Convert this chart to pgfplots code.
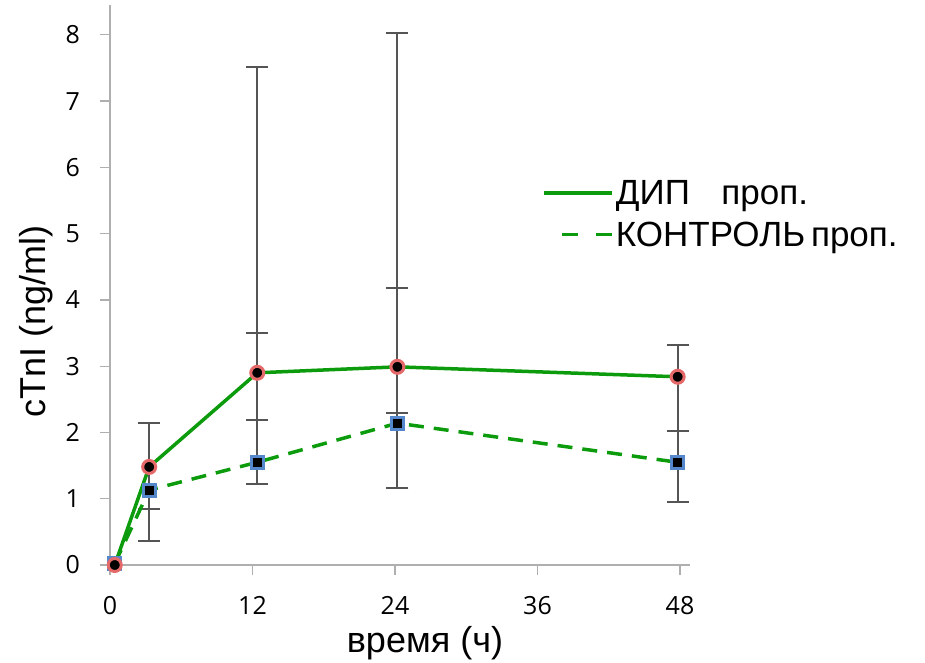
\documentclass[border=0pt]{standalone}
\usepackage{fontspec}
\setmainfont{Liberation Sans}
\newfontfamily\tickfont{Open Sans}
\usepackage{pgfplots}
\pgfplotsset{compat=1.18}
\usepackage{pgfplotstable}
\definecolor{lgreen}{RGB}{12,155,12}
\definecolor{axgray}{RGB}{175,175,175}
\definecolor{errgray}{RGB}{85,85,85}
\definecolor{mred}{RGB}{230,105,105}
\definecolor{mblue}{RGB}{85,135,205}
\pgfplotstableread{
x y ep em
0.4 0 0 0
3.3 1.48 0.66 0.63
12.4 2.90 4.62 0.71
24.2 2.99 5.04 0.70
47.8 2.84 0.48 0.82
}\dip
\pgfplotstableread{
x y ep em
0.4 0.02 0 0
3.3 1.13 1.01 0.77
12.4 1.55 1.95 0.33
24.2 2.14 2.04 0.98
47.8 1.55 0.47 0.60
}\kontrol
\begin{document}
\begin{tikzpicture}
\begin{axis}[
  at={(0pt,0pt)}, anchor=south west,
  scale only axis, width=580pt, height=560pt,
  xmin=0, xmax=48.84, ymin=0, ymax=8.45,
  axis lines=left,
  axis line style={-, draw=axgray, line width=1.3pt},
  xtick={0,12,24,36,48}, ytick={0,1,...,8},
  tick align=outside, major tick length=10pt,
  tick style={draw=axgray, line width=1.3pt},
  /pgf/number format/assume math mode=true,
  xticklabel style={font=\tickfont\fontsize{25}{30}\selectfont, anchor=north, inner sep=0pt, yshift=-21pt},
  yticklabel style={font=\tickfont\fontsize{25}{30}\selectfont, anchor=east, inner sep=0pt, xshift=-20pt},
  xlabel={время (ч)},
  ylabel={cTnI (ng/ml)},
  xlabel style={font=\fontsize{36}{40}\selectfont, at={(axis description cs:0.543,-0.157)}, anchor=base, inner sep=0pt},
  ylabel style={font=\fontsize{36}{40}\selectfont, at={(axis description cs:-0.098,0.434)}, anchor=south, rotate=0, inner sep=0pt},
  legend style={at={(axis cs:36.4,5.84)}, anchor=north west, draw=none, fill=none, inner sep=0pt,
    font=\fontsize{35}{38}\selectfont, row sep=12pt,
    nodes={inner sep=2pt}},
  legend cell align=left,
  clip=false,
]
% error bars
\addplot[draw=none, mark=none, forget plot, skip coords between index={0}{1},
  error bars/.cd, y dir=both, y explicit,
  error bar style={draw=errgray, line width=1.9pt},
  error mark options={draw=errgray, line width=1.9pt, rotate=90, mark size=11pt}]
  table[x=x, y=y, y error plus=ep, y error minus=em]{\kontrol};
\addplot[draw=none, mark=none, forget plot, skip coords between index={0}{1},
  error bars/.cd, y dir=both, y explicit,
  error bar style={draw=errgray, line width=1.9pt},
  error mark options={draw=errgray, line width=1.9pt, rotate=90, mark size=11pt}]
  table[x=x, y=y, y error plus=ep, y error minus=em]{\dip};
% lines
\addplot[lgreen, line width=3.5pt, dash pattern=on 15pt off 10pt, forget plot,
  mark=square*, mark size=6pt, mark options={solid, fill=black, draw=mblue, line width=3pt}]
  table[x=x, y=y]{\kontrol};
\addplot[lgreen, line width=3.5pt, forget plot,
  mark=*, mark size=6.5pt, mark options={solid, fill=black, draw=mred, line width=3pt}]
  table[x=x, y=y]{\dip};
% legend
\addlegendimage{legend image code/.code={\draw[lgreen, line width=3.5pt] (0pt,0pt) -- (68pt,0pt);}}
\addlegendentry{ДИП\hspace{0.9em}проп.}
\addlegendimage{legend image code/.code={\path[draw=none] (0pt,0pt) -- (68pt,0pt); \draw[lgreen, line width=3.5pt] (18pt,0pt) -- (34pt,0pt) (52pt,0pt) -- (68pt,0pt);}}
\addlegendentry{КОНТРОЛЬ\,проп.}
\end{axis}
\path (-110pt,-98pt) rectangle (815pt,565pt);
\end{tikzpicture}
\end{document}
